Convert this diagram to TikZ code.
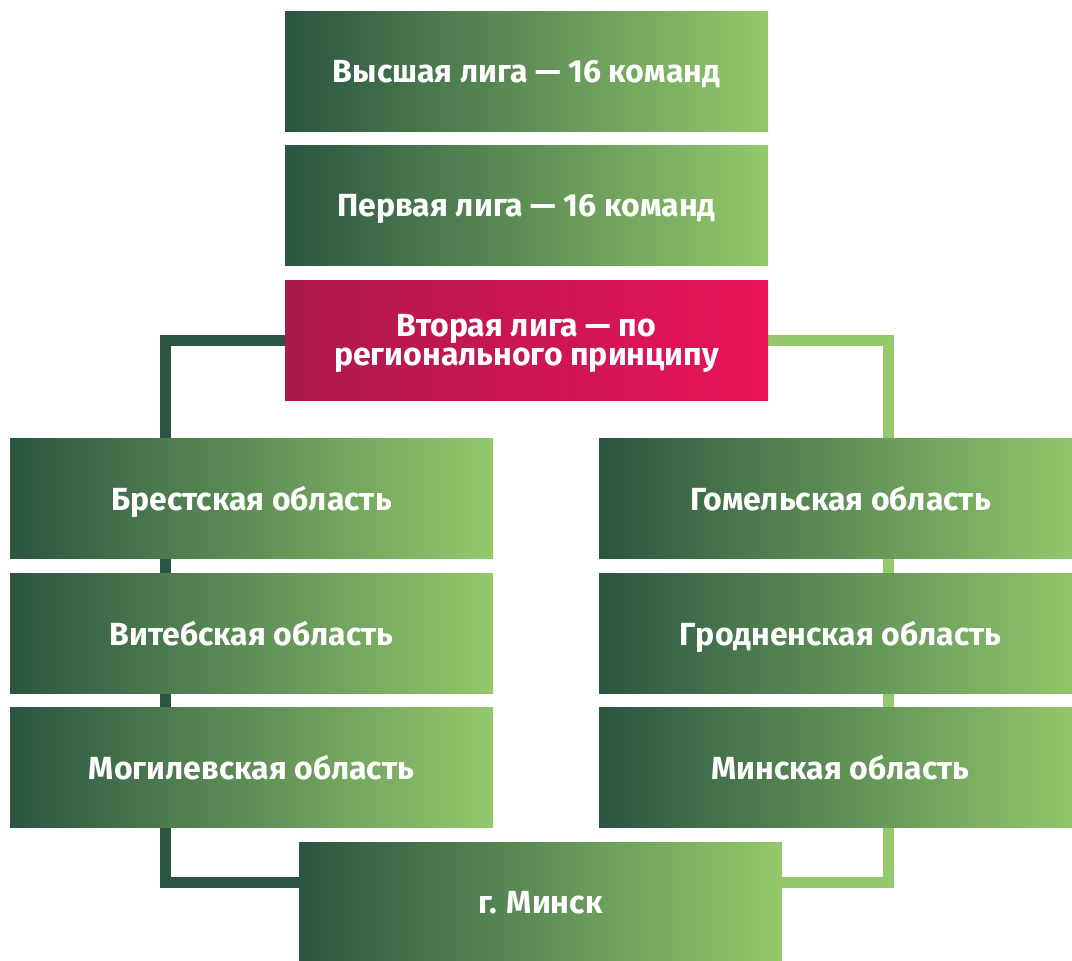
\documentclass[tikz,border=0pt]{standalone}
\usepackage{fontspec}
\setmainfont{Fira Sans}
\usetikzlibrary{backgrounds}

\definecolor{darkgreen}{HTML}{2A5641}
\definecolor{lightgreen}{HTML}{93C86B}
\definecolor{redleft}{HTML}{AC194D}
\definecolor{redright}{HTML}{EA1358}

\begin{document}
\begin{tikzpicture}[x=1pt,y=-1pt,
	leaguebox/.style={minimum width=483pt,
		minimum height=120pt,
		inner sep=0pt,
		text depth=0pt,
		left color=darkgreen,
		right color=lightgreen,
		text=white,
		align=center,
		font=\bfseries\fontsize{32}{29}\selectfont},
	redbox/.style={leaguebox,
		left color=redleft,
		right color=redright},
	link/.style={line width=11pt}]
		
		% Page frame
		\useasboundingbox (0,0) rectangle (1072,961);
		\clip (0,0) rectangle (1072,961);
		
		% Leagues
		\node[leaguebox] (vysshaya) at (526.5,71) {Высшая лига — 16 команд};
		\node[leaguebox] (pervaya) at (526.5,205.5) {Первая лига — 16 команд};
		\node[redbox] (vtoraya) at (526.5,340) {Вторая лига — по\\регионального принципу};
		
		% Regions, left column
		\node[leaguebox] (brest) at (251.5,498) {Брестская область};
		\node[leaguebox] (vitebsk) at (251.5,633) {Витебская область};
		\node[leaguebox] (mogilev) at (251.5,767) {Могилевская область};
		
		% Regions, right column
		\node[leaguebox] (gomel) at (840.5,498) {Гомельская область};
		\node[leaguebox] (grodno) at (840.5,633) {Гродненская область};
		\node[leaguebox] (minskobl) at (840.5,767) {Минская область};
		
		% Capital
		\node[leaguebox] (gminsk) at (540.5,902) {г. Минск};
		
		% Links behind the boxes
		\coordinate (lcorner) at (165.5,882.5);
		\coordinate (rcorner) at (888,882.5);
		\begin{scope}[on background layer]
			\draw[link, darkgreen] (vtoraya.west) -| (lcorner) -- (lcorner -| gminsk.west);
			\draw[link, lightgreen] (vtoraya.east) -| (rcorner) -- (rcorner -| gminsk.east);
		\end{scope}
		
	\end{tikzpicture}
\end{document}
